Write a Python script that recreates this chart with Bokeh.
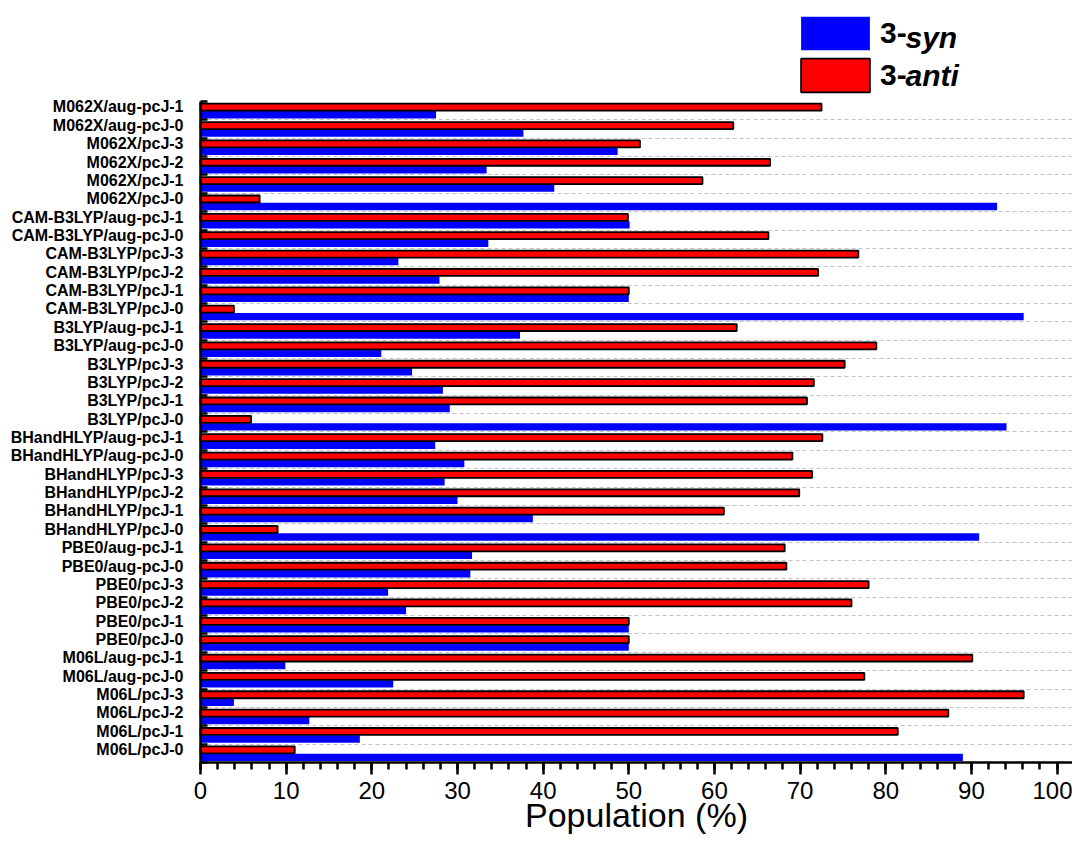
from bokeh.plotting import figure
from bokeh.models import (Range1d, FixedTicker, SingleIntervalTicker, Legend,
                          LegendItem, Label, ColumnDataSource)
from bokeh.embed import file_html
from bokeh.resources import INLINE

# ---------------- data (top to bottom as in the picture) ----------------
methods = [
    "M062X/aug-pcJ-1", "M062X/aug-pcJ-0", "M062X/pcJ-3", "M062X/pcJ-2", "M062X/pcJ-1", "M062X/pcJ-0",
    "CAM-B3LYP/aug-pcJ-1", "CAM-B3LYP/aug-pcJ-0", "CAM-B3LYP/pcJ-3", "CAM-B3LYP/pcJ-2", "CAM-B3LYP/pcJ-1", "CAM-B3LYP/pcJ-0",
    "B3LYP/aug-pcJ-1", "B3LYP/aug-pcJ-0", "B3LYP/pcJ-3", "B3LYP/pcJ-2", "B3LYP/pcJ-1", "B3LYP/pcJ-0",
    "BHandHLYP/aug-pcJ-1", "BHandHLYP/aug-pcJ-0", "BHandHLYP/pcJ-3", "BHandHLYP/pcJ-2", "BHandHLYP/pcJ-1", "BHandHLYP/pcJ-0",
    "PBE0/aug-pcJ-1", "PBE0/aug-pcJ-0", "PBE0/pcJ-3", "PBE0/pcJ-2", "PBE0/pcJ-1", "PBE0/pcJ-0",
    "M06L/aug-pcJ-1", "M06L/aug-pcJ-0", "M06L/pcJ-3", "M06L/pcJ-2", "M06L/pcJ-1", "M06L/pcJ-0",
]
syn = [27.5, 37.7, 48.7, 33.4, 41.3, 93.0,
       50.1, 33.6, 23.1, 27.9, 50.0, 96.1,
       37.3, 21.1, 24.7, 28.3, 29.1, 94.1,
       27.4, 30.8, 28.5, 30.0, 38.8, 90.9,
       31.7, 31.5, 21.9, 24.0, 50.0, 50.0,
       9.9, 22.5, 3.9, 12.7, 18.6, 89.0]
anti = [72.5, 62.2, 51.3, 66.5, 58.6, 6.9,
        49.9, 66.3, 76.8, 72.1, 50.0, 3.9,
        62.6, 78.9, 75.2, 71.6, 70.8, 5.9,
        72.6, 69.1, 71.4, 69.9, 61.1, 9.0,
        68.2, 68.4, 78.0, 76.0, 50.0, 50.0,
        90.1, 77.5, 96.1, 87.3, 81.4, 11.0]

n = len(methods)
idx = [n - 1 - i for i in range(n)]          # bottom row -> 0
src = ColumnDataSource(dict(
    name=methods, syn=syn, anti=anti,
    y_syn=[k + 0.28 for k in idx],
    y_anti=[k + 0.69 for k in idx],
))

FONT = "Liberation Sans"
W, H = 1072, 836
frame_h = H
X_MAX = 103.5

p = figure(width=W, height=H, output_backend="svg", toolbar_location=None,
           x_range=Range1d(-23.35, 101.8), y_range=Range1d(-4.03, 41.50),
           min_border_left=0, min_border_right=0, min_border_top=0,
           min_border_bottom=0, background_fill_color="white",
           border_fill_color="white")
p.outline_line_color = None
p.xgrid.visible = False

r_syn = p.hbar(y="y_syn", right="syn", left=0, height=0.40, source=src,
               fill_color="#0000ff", line_color=None)
r_anti = p.hbar(y="y_anti", right="anti", left=0, height=0.38, source=src,
                fill_color="#ff0000", line_color="black", line_width=1.8)

# y grid at category boundaries, only to the right of the y axis
p.ygrid.ticker = FixedTicker(ticks=list(range(1, n)))
p.ygrid.cross_bounds = (0, 120)
p.ygrid.grid_line_color = "#c4c4c4"
p.ygrid.grid_line_dash = "4 3"
p.ygrid.grid_line_width = 1

# y axis at x = 0: labels beside each category, small ticks at boundaries
ya = p.yaxis[0]
ya.fixed_location = 0
ya.ticker = FixedTicker(ticks=[k + 0.70 for k in range(n)],
                        minor_ticks=list(range(0, n + 1)))
ya.major_label_overrides = {k + 0.70: methods[n - 1 - k] for k in range(n)}
ya.bounds = (0, n)
ya.major_tick_line_color = None
ya.minor_tick_line_color = "black"
ya.minor_tick_line_width = 2.5
ya.minor_tick_in = 7
ya.minor_tick_out = 0
ya.axis_line_width = 2.5
ya.axis_line_color = "black"
ya.major_label_standoff = 11
ya.major_label_text_font = FONT
ya.major_label_text_font_style = "bold"
ya.major_label_text_font_size = "16px"
ya.major_label_text_color = "black"

# x axis at y = 0
xa = p.xaxis[0]
xa.fixed_location = 0
xa.bounds = (0, X_MAX)
xa.ticker = SingleIntervalTicker(interval=10, num_minor_ticks=5)
xa.axis_line_width = 2.5
xa.axis_line_color = "black"
xa.major_tick_line_width = 2.5
xa.minor_tick_line_width = 2.5
xa.major_tick_in = 0
xa.major_tick_out = 12
xa.minor_tick_in = 0
xa.minor_tick_out = 7
xa.major_label_text_font = FONT
xa.major_label_text_font_size = "24px"
xa.major_label_text_color = "black"
xa.major_label_standoff = 7
xa.axis_label = "Population (%)"
xa.axis_label_text_font = FONT
xa.axis_label_text_font_size = "34px"
xa.axis_label_text_font_style = "normal"
xa.axis_label_text_color = "black"
xa.axis_label_standoff = -6

# legend (swatches) + italic parts of the labels
legend = Legend(items=[LegendItem(label="3-", renderers=[r_syn]),
                       LegendItem(label="3-", renderers=[r_anti])],
                location=(792, frame_h - 16 - 80),
                glyph_width=86, glyph_height=42, label_height=42,
                label_standoff=2, spacing=-4, padding=0, margin=0,
                border_line_color=None, background_fill_alpha=0,
                label_text_font=FONT, label_text_font_style="bold",
                label_text_font_size="30px", label_text_color="black")
p.add_layout(legend)
for txt, yy in (("syn", frame_h - 37), ("anti", frame_h - 75)):
    p.add_layout(Label(x=905, y=yy, x_units="screen", y_units="screen", text=txt,
                       text_font=FONT, text_font_style="bold italic",
                       text_font_size="30px", text_baseline="middle",
                       text_color="black"))

open("out.html", "w").write(file_html(p, INLINE))
